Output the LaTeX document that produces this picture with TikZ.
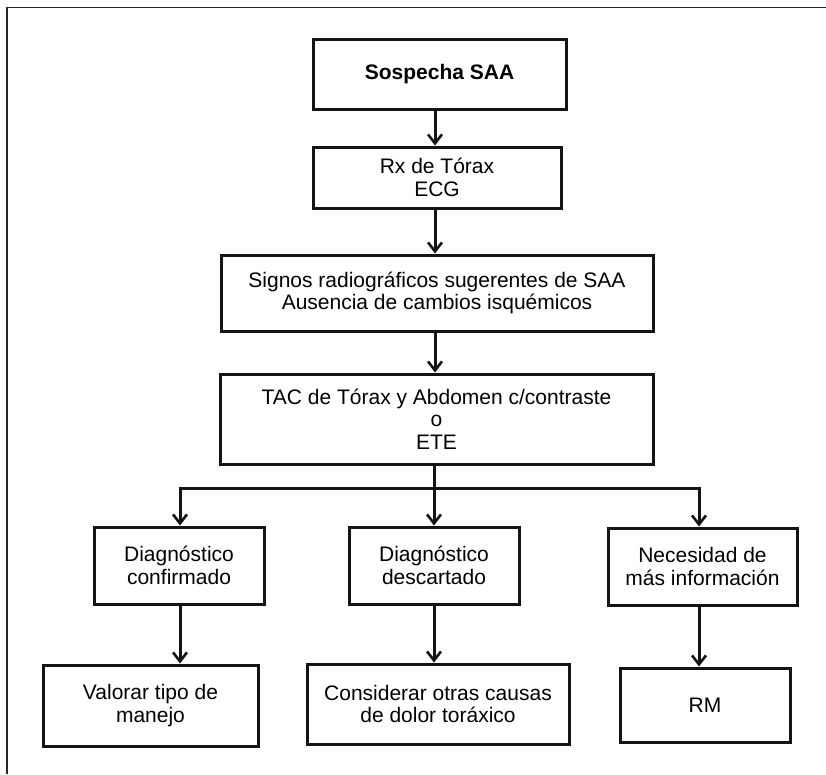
\documentclass[tikz,border=0pt]{standalone}
\usepackage{fontspec}
\setmainfont{Liberation Sans}
\usetikzlibrary{arrows.meta}
\begin{document}
\begin{tikzpicture}[x=1pt,y=-1pt,
  box/.style={draw=black!92, line width=3pt, inner sep=0pt, align=center,
    font=\fontsize{21}{22.5}\selectfont, fill=white},
  arr/.style={line width=3pt, draw=black!92,
    -{Straight Barb[length=9pt,width=14pt,line width=2.6pt]}},
  conn/.style={line width=3pt, draw=black!92},
  frame/.style={line width=1.6pt, draw=black!85}]
\useasboundingbox (0,0) rectangle (826,774);
% frame
\coordinate (fl) at (7,774);
\coordinate (fc) at (7,7.5);
\coordinate (fr) at (826,7.5);
\draw[frame] (fl) -- (fc) -- (fr);
% main column
\node[box, minimum width=253pt, minimum height=70pt] (b1) at (439.5,74) {\bfseries Sospecha SAA};
\node[box, minimum width=248pt, minimum height=61pt] (b2) at (437,177.5) {Rx de Tórax\\ECG};
\node[box, minimum width=432pt, minimum height=76pt] (b3) at (437,293) {Signos radiográficos sugerentes de SAA\\Ausencia de cambios isquémicos};
\node[box, minimum width=433pt, minimum height=90pt] (b4) at (436.5,419) {TAC de Tórax y Abdomen c/contraste\\o\\ETE};
% branch row 1
\node[box, minimum width=170pt, minimum height=77pt] (ba) at (179,565.5) {Diagnóstico\\confirmado};
\node[box, minimum width=170pt, minimum height=77pt] (bb) at (434,565.5) {Diagnóstico\\descartado};
\node[box, minimum width=189pt, minimum height=77pt] (bc) at (702.5,566.5) {Necesidad de\\más información};
% row 2
\node[box, minimum width=215pt, minimum height=81pt] (bd) at (150.5,705.5) {Valorar tipo de\\manejo};
\node[box, minimum width=262pt, minimum height=80pt] (be) at (438,704) {Considerar otras causas\\de dolor toráxico};
\node[box, minimum width=170pt, minimum height=74pt] (bf) at (705,705) {RM};
% column arrows
\coordinate (tx) at (435,0);
\draw[arr] (b1.south -| tx) -- (b2.north -| tx);
\draw[arr] (b2.south -| tx) -- (b3.north -| tx);
\draw[arr] (b3.south -| tx) -- (b4.north -| tx);
% branching
\coordinate (xa) at (180,488);
\coordinate (xb) at (434,488);
\coordinate (xc) at (699,488);
\draw[conn, line cap=rect] (xa) -- (xc);
\draw[conn] (b4.south -| xb) -- (xb);
\draw[arr] (xa) -- (ba.north -| xa);
\draw[arr] (xb) -- (bb.north -| xb);
\draw[arr] (xc) -- (bc.north -| xc);
% second level
\draw[arr] (ba.south -| xa) -- (bd.north -| xa);
\draw[arr] (bb.south -| xb) -- (be.north -| xb);
\draw[arr] (bc.south -| xc) -- (bf.north -| xc);
\end{tikzpicture}
\end{document}
